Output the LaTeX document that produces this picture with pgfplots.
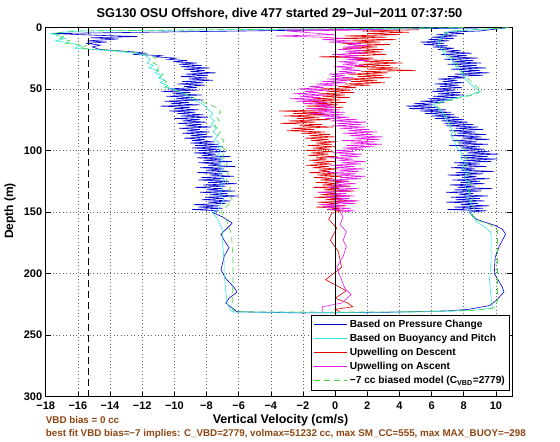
\documentclass[border=0pt]{standalone}
\usepackage{fontspec}
\setmainfont{Liberation Sans}
\usepackage{pgfplots}
\pgfplotsset{compat=1.18}
\definecolor{mblue}{rgb}{0,0,0.82}
\definecolor{mcyan}{rgb}{0.2,0.9,0.9}
\definecolor{mred}{rgb}{0.88,0,0}
\definecolor{mmag}{rgb}{0.9,0.1,0.9}
\definecolor{mgreen}{rgb}{0.25,0.85,0.25}
\definecolor{mbrown}{rgb}{0.55,0.27,0.07}
\begin{document}
\begin{tikzpicture}
\useasboundingbox (0,0) rectangle (560pt,442pt);
\begin{axis}[
  at={(45.7pt,45.3pt)}, anchor=south west, scale only axis,
  width=466.3pt, height=369.4pt,
  xmin=-18, xmax=11, ymin=0, ymax=300, y dir=reverse,
  xtick={-18,-16,...,10},
  xticklabels={−18,−16,−14,−12,−10,−8,−6,−4,−2,0,2,4,6,8,10},
  ytick={0,50,...,300},
  yticklabels={0,50,100,150,200,250,300},
  tick align=inside, major tick length=5pt,
  tick style={black, line width=0.6pt},
  grid=major,
  major grid style={black!60, line width=0.6pt, dash pattern=on 0.8pt off 2.6pt},
  ticklabel style={font=\bfseries\fontsize{11}{13}\selectfont},
  xticklabel style={yshift=-1.5pt},
  axis line style={line width=0.7pt},
  legend style={at={(0.994,0.016)}, anchor=south east,
    font=\bfseries\fontsize{10.2}{11.5}\selectfont, draw=black, line width=0.7pt,
    row sep=1.2pt, inner xsep=2pt, inner ysep=3pt},
  legend cell align=left,
  legend image code/.code={\draw[#1, line width=1pt] (0pt,0pt) -- (33pt,0pt);},
  every axis plot/.append style={line width=0.6pt},
]
\addplot[color=mblue] table[x=v,y=d] {
v d
9 0.5
-17.6 5
-14.8 6.5
-12.3 7.5
-15.2 8.5
-13.5 9.5
-15.4 11
-14.2 12
-15.5 13
-14.6 14.5
-15.1 16
-14.6 18
-12.5 20
-11.8 21
-12.6 22
-10.8 23
-11.2 24
-9.9 25
-10.4 26
-9.2 27
-10.1 28
-8.6 29
-9.7 30
-8.3 31
-9.6 32
-7.8 33
-9.4 34
-8.1 35
-9.0 36
-7.4 37
-9.3 38
-7.9 39
-9.6 40
-8.0 41
-9.1 42
-7.6 43
-9.5 44
-8.2 45
-9.8 46
-8.1 47
-9.4 48
-8.6 49
-10.4 50
-8.5 51
-10.8 52
-9.0 53
-10.1 54
-8.3 55
-10.5 56
-8.8 57
-9.9 58
-8.2 59
-10.6 60
-9.1 61
-10.2 62
-8.4 63
-10.9 64
-9.0 65
-10.0 66
-8.5 67
-10.3 68
-8.7 69
-9.8 70
-8.2 71
-9.6 72
-7.9 73
-10.0 74
-8.4 75
-9.5 76
-8.0 77
-9.8 78
-8.3 79
-9.3 80
-7.7 81
-9.7 82
-8.4 83
-9.2 84
-7.8 85
-9.5 86
-8.0 87
-9.0 88
-7.6 89
-9.4 90
-8.1 91
-8.9 92
-7.5 93
-9.0 94
-7.3 95
-8.7 96
-7.0 97
-8.9 98
-7.2 99
-8.5 100
-6.8 101
-8.8 102
-7.4 103
-8.3 104
-6.5 105
-8.6 106
-7.0 107
-8.2 108
-6.4 109
-8.5 110
-7.1 111
-7.9 112
-6.2 113
-8.4 114
-6.9 115
-8.0 116
-6.6 117
-8.6 118
-7.0 119
-7.8 120
-6.3 121
-8.3 122
-6.9 123
-8.5 124
-6.6 125
-7.9 126
-6.1 127
-8.2 128
-6.8 129
-8.7 130
-7.0 131
-8.0 132
-6.2 133
-8.4 134
-6.7 135
-7.8 136
-6.0 137
-8.1 138
-6.9 139
-8.3 140
-6.5 141
-7.9 142
-6.8 143
-8.8 144
-7.2 145
-8.5 146
-7.0 147
-8.9 148
-7.3 149
-7.6 150.5
-7.0 154
-6.4 159
-6.7 163
-7.1 168
-6.9 173
-6.6 179
-6.9 186
-7.1 197
-6.8 204
-6.3 211
-6.1 215
-6.6 220
-6.8 224
-6.3 229
-6.1 231
-2 232
3 231.5
7 230.3
8.3 229
9.6 226
10.0 222
10.5 215
10.4 211
9.9 200
9.95 187
10.2 178
10.6 168
10.4 164
9.96 161
8.8 156
8.4 151
8.35 150
9.4 149
7.0 148
9.2 147
7.4 146
9.6 145
7.8 144
8.9 143
6.9 142
9.3 141
7.5 140
9.0 139
7.2 138
9.5 137
7.7 136
8.6 135
6.9 134
9.1 133
7.4 132
9.8 131
7.6 130
8.7 129
7.1 128
9.3 127
7.8 126
9.0 125
7.3 124
9.6 123
7.9 122
8.8 121
7.0 120
9.2 119
7.5 118
9.9 117
7.8 116
8.7 115
7.2 114
9.4 113
7.6 112
9.0 111
7.4 110
9.7 109
8.0 108
10.1 107
7.8 106
9.5 105
7.9 104
10.2 103
8.2 102
9.6 101
7.6 100
9.3 99
7.8 98
9.0 97
7.1 96
9.5 95
7.7 94
8.8 93
7.3 92
9.6 91
7.9 90
9.1 89
7.2 88
9.4 87
7.6 86
8.7 85
7.1 84
9.2 83
7.5 82
8.9 81
6.9 80
8.6 79
6.8 78
8.3 77
6.6 76
8.0 75
6.2 74
7.7 73
6.0 72
7.4 71
5.6 70
7.2 69
5.3 68
6.9 67
4.6 66
6.4 65
4.4 64
6.1 63
4.9 62
6.8 61
5.3 60
7.3 59
5.8 58
7.6 57
6.1 56
8.0 55
6.4 54
7.8 53
6.0 52
7.5 51
6.3 50
7.9 49
6.5 48
7.7 47
6.2 46
8.0 45
6.7 44
7.6 43
6.4 42
8.1 41
7.0 40
9.2 39
7.4 38
9.6 37
7.8 36
9.0 35
7.2 34
9.4 33
7.6 32
8.8 31
7.0 30
9.1 29
7.3 28
8.6 27
6.8 26
8.9 25
7.1 24
8.2 23
6.6 22
8.5 21
6.9 20
7.8 19
6.4 18
7.4 17
6.1 16
7.0 15
5.5 14
6.8 13
5.3 12
7.1 11
5.8 10
7.4 9
6.0 8
7.6 7
6.3 6
8.0 5
6.8 4
9.0 3
10.6 0.5
};
\addlegendentry{Based on Pressure Change}
\addplot[color=mcyan] table[x=v,y=d] {
v d
8 0.3
-16 3
-17.7 5
-17.2 7
-16.8 9
-17.4 11
-16.3 13
-15.8 15
-16.2 17
-14 19
-12.5 21
-11.8 23
-11.5 26
-11.7 29
-11.3 31
-11.6 33
-11.0 35
-11.2 37
-10.8 39
-11.0 41
-10.6 43
-10.9 45
-10.4 47
-10.6 49
-10.0 50
-9.6 53
-9.1 56
-8.8 59
-8.3 62
-8.0 65
-7.8 68
-7.6 70
-7.8 73
-7.5 76
-7.7 79
-7.4 82
-7.6 85
-7.3 88
-7.5 91
-7.2 94
-7.3 97
-7.1 100
-7.3 104
-7.0 108
-7.2 112
-7.0 116
-7.2 120
-6.9 124
-7.1 128
-7.0 132
-7.2 136
-6.9 140
-7.1 144
-7.3 148
-7.6 151
-7.3 156
-7.0 165
-7.0 175
-6.9 190
-6.9 200
-6.8 215
-6.7 225
-6.5 230
-6.3 231.3
0 231.6
5 231.2
8.5 230
9.8 228
9.7 220
9.6 205
9.7 190
9.7 175
9.7 167
9.3 162
8.9 159
8.45 152
8.3 146
8.5 142
8.2 138
8.4 134
8.1 130
8.3 126
8.0 122
8.2 118
7.9 114
8.1 110
7.8 106
7.9 102
7.7 100
7.5 96
7.4 92
7.2 88
7.3 84
7.1 80
7.0 76
6.8 72
6.6 68
6.3 65
6.1 63
6.7 60
7.6 57
8.4 55
9.0 52
8.7 49
8.4 46
8.1 42
8.0 39
7.8 36
7.6 33
7.4 30
7.3 27
7.0 24
6.8 21
6.6 18
6.5 16
6.4 12
6.6 8
6.8 5
7.2 3
10.8 0.3
};
\addlegendentry{Based on Buoyancy and Pitch}
\addplot[color=mred] table[x=v,y=d] {
v d
5.2 2
1.7 3
4.6 4
2.0 5
4.0 6
0.6 7
3.2 8
0.2 9
3.8 10
1.0 11
2.8 12
0.4 13
3.4 14
1.2 15
2.6 16
0.5 17
3.0 18
1.5 19
2.9 20
0.8 21
3.2 22
1.6 23
-1.0 24
2.4 25
1.1 26
3.6 27
1.8 28
4.2 29
1.5 30
3.4 31
1.2 32
3.9 33
2.0 34
5.0 35
1.6 36
3.3 37
0.8 38
3.0 39
1.4 40
3.4 41
0.5 42
2.6 43
1.0 44
3.1 45
0.6 46
2.2 47
0.2 48
1.3 49
-0.9 50
1.0 51
-0.5 52
1.2 53
-1.0 54
0.6 55
-0.8 56
0.9 57
-1.4 58
0.3 59
-2.0 60
0.7 61
-1.2 62
0.2 63
-1.8 64
0.5 65
-1.5 66
-0.2 67
-3.5 68
-0.8 69
-2.6 70
-0.4 71
-3.2 72
-1.0 73
-2.4 74
-0.3 75
-2.9 76
-1.2 77
-3.4 78
-0.8 79
-2.2 80
-0.1 81
-2.7 82
-1.3 83
-3.0 84
-0.6 85
-2.1 86
-0.3 87
-1.6 88
0.0 89
-1.9 90
-0.4 91
-1.5 92
0.1 93
-1.2 94
-0.2 95
-1.7 96
0.0 97
-1.4 98
-0.3 99
-1.8 100
-0.1 101
-1.5 102
-0.4 103
-1.7 104
0.1 105
-1.2 106
-0.5 107
-1.6 108
0.0 109
-1.3 110
-0.2 111
-1.8 112
-0.4 113
-1.4 114
0.2 115
-1.0 116
-0.3 117
-1.6 118
0.1 119
-1.1 120
0.4 121
-1.3 122
-0.1 123
-0.9 124
0.8 125
-1.2 126
0.2 127
-0.8 128
1.0 129
-1.4 130
0.3 131
-0.7 132
1.2 133
-1.0 134
0.1 135
-0.9 136
0.9 137
-1.3 138
0.4 139
-0.6 140
1.3 141
-1.1 142
0.2 143
-0.8 144
0.7 145
-1.2 146
0.3 147
-0.5 148
0.4 149
-0.2 151
-0.4 156
0.1 163
-0.3 173
0.2 182
0.4 195
-0.6 205
0.7 214
0.0 220
0.8 224
1.1 227
0.0 229
0.3 231
};
\addlegendentry{Upwelling on Descent}
\addplot[color=mmag] table[x=v,y=d] {
v d
-0.8 231
-0.8 227
0.4 224
1.0 217
0.6 212
0.4 205
0.1 195
0.5 186
0.7 178
0.5 173
0.7 166
0.3 160
0.5 154
0.3 150
1.2 149
-0.4 148
1.0 147
-0.8 146
0.6 145
-1.0 144
1.3 143
-0.2 142
1.5 141
0.0 140
0.9 139
-0.6 138
1.2 137
-0.3 136
0.7 135
-1.1 134
1.0 133
0.1 132
1.4 131
-0.5 130
0.8 129
-0.2 128
1.3 127
0.0 126
0.9 125
-0.4 124
1.6 123
0.3 122
1.9 121
0.1 120
1.3 119
-0.5 118
1.5 117
0.2 116
1.8 115
0.0 114
1.2 113
-0.3 112
1.6 111
0.4 110
1.9 109
0.2 108
1.1 107
-0.4 106
1.5 105
0.3 104
1.7 103
-0.2 102
1.2 101
0.0 100
1.8 99
0.5 98
2.4 97
0.7 96
2.9 95
1.0 94
2.5 93
0.4 92
2.8 91
1.2 90
3.0 89
0.9 88
2.3 87
0.5 86
2.6 85
0.8 84
2.1 83
0.3 82
1.9 81
-0.2 80
1.6 79
0.1 78
2.0 77
-0.3 76
1.4 75
-0.6 74
0.9 73
-1.0 72
0.5 71
-1.6 70
0.6 69
-1.3 68
0.3 67
-1.8 66
0.1 65
-1.1 64
-0.2 63
-2.0 62
-0.5 61
-2.4 60
-0.8 59
-2.8 58
-0.9 57
-2.2 56
-0.4 55
-2.6 54
-1.0 53
-1.9 52
-0.3 51
-2.3 50
-0.7 49
-1.6 48
0.2 47
-1.2 46
0.7 45
-0.8 44
1.0 43
-0.5 42
1.1 41
-0.2 40
0.6 39
-0.4 38
1.3 37
0.2 36
1.6 35
0.4 34
1.2 33
-0.1 32
1.8 31
0.5 30
1.4 29
0.2 28
2.1 27
0.7 26
1.7 25
0.3 24
1.5 23
-0.2 22
2.0 21
0.6 20
1.8 19
0.2 18
1.6 17
0.5 16
2.1 15
0.8 14
1.6 13
-0.4 12
1.0 11
-0.8 10
0.6 9
-1.0 8
-3.7 7
0.0 6
-3.0 3
3.0 2
-3.5 1.5
};
\addlegendentry{Upwelling on Ascent}
\addplot[color=mgreen, dash pattern=on 6pt off 4pt] table[x=v,y=d] {
v d
8 0.3
-16.5 3
-17.5 5
-16.9 7
-17.1 9
-16.5 11
-16.8 13
-15.5 15
-15.9 17
-13.5 19
-12.2 21
-11.4 23
-11.1 26
-11.3 29
-10.9 32
-11.1 35
-10.7 38
-10.9 41
-10.5 44
-10.7 47
-10.2 50
-9.5 53
-9.0 56
-8.5 59
-8.0 62
-7.4 65
-7.1 69
-7.4 72
-7.2 76
-7.5 80
-7.1 84
-7.3 88
-6.9 92
-7.1 96
-6.8 100
-7.0 105
-6.7 110
-6.9 115
-6.6 120
-6.8 125
-6.5 130
-6.7 135
-6.4 140
-6.7 145
-7.1 150
-6.8 155
-6.45 168
-6.35 187
-6.35 206
-6.4 222
-6.4 229
-6.2 231
0 231.3
5 231
8.5 230
9.9 228
10.1 222
10.1 205
10.1 185
10.1 165
9.6 160
8.9 157
8.5 153
8.7 148
8.4 143
8.6 138
8.3 133
8.5 128
8.2 123
8.4 118
8.1 113
8.3 108
8.0 104
8.1 100
7.8 96
7.6 92
7.5 88
7.4 84
7.2 80
7.1 76
6.9 72
6.7 68
6.4 65
6.2 63
6.9 60
7.8 57
8.6 55
9.1 52
8.9 49
8.6 46
8.3 42
8.1 39
7.9 36
7.7 33
7.6 30
7.4 27
7.2 24
6.9 21
6.8 18
6.6 16
6.5 12
6.7 8
6.9 5
7.4 3
11 0.2
};
\addlegendentry{−7 cc biased model (C\textsubscript{VBD}=2779)}
\addplot[black, line width=0.7pt, forget plot] coordinates {(0,0) (0,300)};
\addplot[black, line width=0.7pt, dash pattern=on 7pt off 4pt, forget plot] coordinates {(-15.35,0) (-15.35,300)};
\end{axis}
\node[font=\bfseries\fontsize{12.8}{14}\selectfont] at (279.5pt,428pt) {SG130 OSU Offshore, dive 477 started 29−Jul−2011 07:37:50};
\node[font=\bfseries\fontsize{12.5}{14}\selectfont] at (280.5pt,21.3pt) {Vertical Velocity (cm/s)};
\node[font=\bfseries\fontsize{12}{14}\selectfont, rotate=90] at (10pt,231pt) {Depth (m)};
\node[font=\bfseries\fontsize{9.8}{11}\selectfont, text=mbrown, anchor=base west, inner sep=0pt] at (45.7pt,18pt) {VBD bias = 0 cc};
\node[font=\bfseries\fontsize{9.8}{11}\selectfont, text=mbrown, anchor=base west, inner sep=0pt] at (45.7pt,5.5pt) {best fit VBD bias=−7 implies: C\_VBD=2779, volmax=51232 cc, max SM\_CC=555, max MAX\_BUOY=−298};
\end{tikzpicture}
\end{document}
